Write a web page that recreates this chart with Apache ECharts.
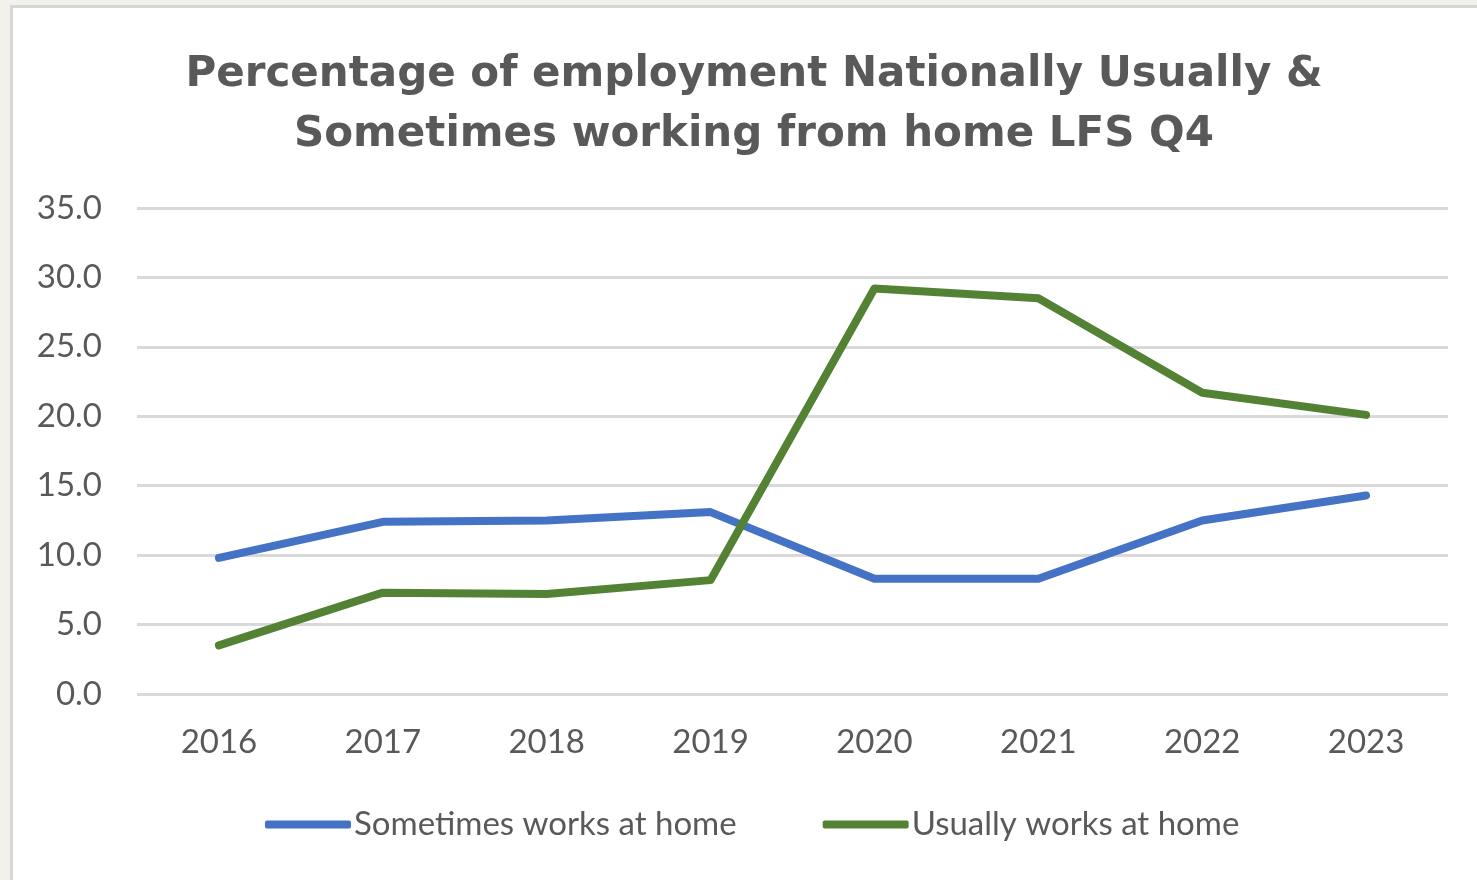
<!DOCTYPE html>
<html>
<head>
<meta charset="utf-8">
<title>Percentage of employment working from home</title>
<script src="https://cdn.jsdelivr.net/npm/echarts@6/dist/echarts.min.js"></script>
<style>
  html, body { margin: 0; padding: 0; width: 1477px; height: 880px; overflow: hidden; background: #f2f2ea; }
  #frame {
    position: absolute; left: 10px; top: 5px; width: 1467px; height: 875px;
    background: #ffffff; border-left: 3px solid #d6d6d6; border-top: 3px solid #d6d6d6;
    box-sizing: border-box;
  }
  #chart { position: absolute; left: 0; top: 0; width: 1477px; height: 880px; }
</style>
</head>
<body>
<div id="frame"></div>
<div id="chart"></div>
<script>
// Labour Force Survey, Q4 of each year (% of employment)
const years = ['2016', '2017', '2018', '2019', '2020', '2021', '2022', '2023'];
const sometimesHome = [9.8, 12.4, 12.5, 13.1, 8.3, 8.3, 12.5, 14.3];
const usuallyHome = [3.5, 7.3, 7.2, 8.2, 29.2, 28.5, 21.7, 20.1];
const seriesNames = ['Sometimes works at home', 'Usually works at home'];
const titleLines = ['Percentage of employment Nationally Usually &', 'Sometimes working from home LFS Q4'];

const textColor = '#595959';
const labelFont = 'Lato, "Open Sans", sans-serif';

const chart = echarts.init(document.getElementById('chart'), null, { renderer: 'canvas' });
chart.setOption({
  backgroundColor: 'transparent',
  animation: false,
  title: {
    text: titleLines.join('\n'),
    left: 749,
    textAlign: 'center',
    top: 40,
    textStyle: {
      fontFamily: '"DejaVu Sans", sans-serif',
      fontWeight: 'bold',
      fontSize: 42,
      lineHeight: 60,
      color: textColor
    }
  },
  grid: { left: 137, right: 29, top: 208, bottom: 186, containLabel: false },
  xAxis: {
    type: 'category',
    data: years,
    boundaryGap: true,
    axisLine: { show: false },
    axisTick: { show: false },
    axisLabel: { color: textColor, fontFamily: labelFont, fontSize: 33, margin: 32 }
  },
  yAxis: {
    type: 'value',
    min: 0,
    max: 35,
    interval: 5,
    axisLine: { show: false },
    axisTick: { show: false },
    splitLine: { lineStyle: { color: '#d9d9d9', width: 3 } },
    axisLabel: {
      color: textColor, fontFamily: labelFont, fontSize: 33, margin: 35,
      formatter: v => v.toFixed(1)
    }
  },
  legend: {
    bottom: 34,
    left: 260,
    itemWidth: 86,
    itemHeight: 8,
    itemGap: 86,
    icon: 'roundRect',
    textStyle: { color: textColor, fontFamily: labelFont, fontSize: 33, padding: [0, 0, 0, -2] },
    data: seriesNames
  },
  series: [
    {
      name: seriesNames[0],
      type: 'line',
      data: sometimesHome,
      symbol: 'none',
      color: '#4472c4',
      lineStyle: { width: 8, color: '#4472c4', cap: 'round', join: 'round' }
    },
    {
      name: seriesNames[1],
      type: 'line',
      data: usuallyHome,
      symbol: 'none',
      color: '#548235',
      lineStyle: { width: 8, color: '#548235', cap: 'round', join: 'round' }
    }
  ]
});
</script>
</body>
</html>
